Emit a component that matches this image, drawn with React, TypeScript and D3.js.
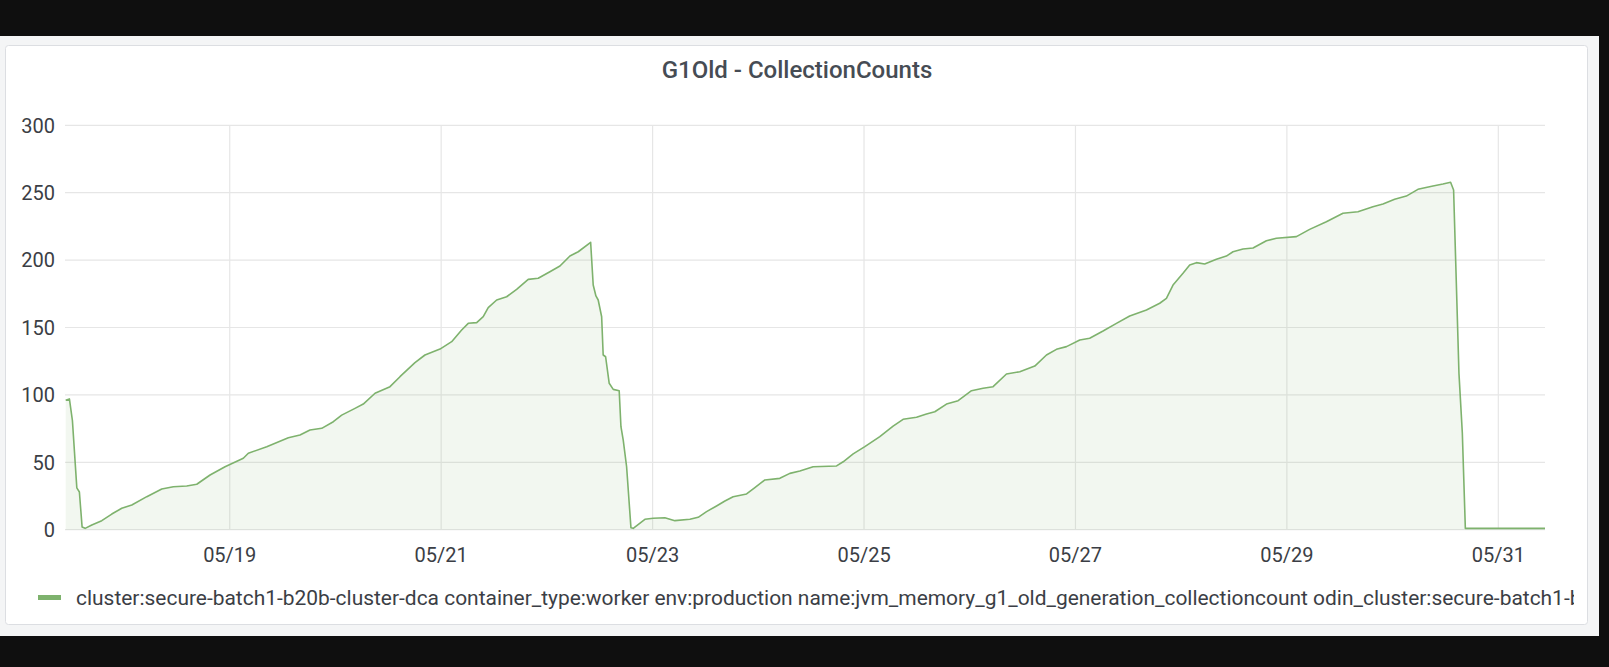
import React from "react";
import * as d3 from "d3";

const TITLE = "G1Old - CollectionCounts";
const LEGEND_LABEL =
  "cluster:secure-batch1-b20b-cluster-dca container_type:worker env:production name:jvm_memory_g1_old_generation_collectioncount odin_cluster:secure-batch1-b20b-cluster-dca";

const TIME_DOMAIN = ["2021-05-17 10:36", "2021-05-31 10:36"];
const Y_TICKS = [0, 50, 100, 150, 200, 250, 300];
const X_TICKS = ["2021-05-19 00:00", "2021-05-21 00:00", "2021-05-23 00:00", "2021-05-25 00:00", "2021-05-27 00:00", "2021-05-29 00:00", "2021-05-31 00:00"];

const times = [
  "2021-05-17 10:45", "2021-05-17 11:36", "2021-05-17 12:17", "2021-05-17 13:17", "2021-05-17 13:52",
  "2021-05-17 14:29", "2021-05-17 15:10", "2021-05-17 16:41", "2021-05-17 18:57", "2021-05-17 21:13",
  "2021-05-17 23:29", "2021-05-18 01:46", "2021-05-18 05:10", "2021-05-18 08:34", "2021-05-18 11:12",
  "2021-05-18 14:14", "2021-05-18 16:31", "2021-05-18 19:32", "2021-05-18 22:56", "2021-05-19 03:05",
  "2021-05-19 04:13", "2021-05-19 08:24", "2021-05-19 13:18", "2021-05-19 15:57", "2021-05-19 18:13",
  "2021-05-19 20:53", "2021-05-19 23:31", "2021-05-20 01:25", "2021-05-20 04:26", "2021-05-20 06:19",
  "2021-05-20 08:59", "2021-05-20 12:23", "2021-05-20 14:39", "2021-05-20 18:03", "2021-05-20 20:19",
  "2021-05-20 23:44", "2021-05-21 02:23", "2021-05-21 04:39", "2021-05-21 06:09", "2021-05-21 08:04",
  "2021-05-21 09:33", "2021-05-21 10:41", "2021-05-21 12:36", "2021-05-21 14:52", "2021-05-21 17:08",
  "2021-05-21 19:46", "2021-05-21 22:02", "2021-05-22 00:41", "2021-05-22 02:58", "2021-05-22 05:14",
  "2021-05-22 07:07", "2021-05-22 09:56", "2021-05-22 10:31", "2021-05-22 11:08", "2021-05-22 11:39",
  "2021-05-22 12:26", "2021-05-22 12:47", "2021-05-22 13:20", "2021-05-22 14:09", "2021-05-22 15:04",
  "2021-05-22 16:25", "2021-05-22 16:49", "2021-05-22 17:20", "2021-05-22 18:06", "2021-05-22 19:05",
  "2021-05-22 19:36", "2021-05-22 22:15", "2021-05-23 00:08", "2021-05-23 02:47", "2021-05-23 05:04",
  "2021-05-23 08:28", "2021-05-23 10:21", "2021-05-23 12:15", "2021-05-23 14:31", "2021-05-23 16:25",
  "2021-05-23 18:17", "2021-05-23 21:20", "2021-05-23 23:13", "2021-05-24 01:29", "2021-05-24 04:53",
  "2021-05-24 07:10", "2021-05-24 09:26", "2021-05-24 12:27", "2021-05-24 17:46", "2021-05-24 19:16",
  "2021-05-24 21:32", "2021-05-25 00:11", "2021-05-25 03:35", "2021-05-25 06:36", "2021-05-25 08:52",
  "2021-05-25 11:55", "2021-05-25 14:11", "2021-05-25 16:04", "2021-05-25 18:43", "2021-05-25 21:22",
  "2021-05-26 00:24", "2021-05-26 03:02", "2021-05-26 05:18", "2021-05-26 08:20", "2021-05-26 11:22",
  "2021-05-26 14:46", "2021-05-26 17:25", "2021-05-26 19:41", "2021-05-26 21:58", "2021-05-27 00:59",
  "2021-05-27 03:14", "2021-05-27 06:16", "2021-05-27 09:18", "2021-05-27 12:19", "2021-05-27 16:07",
  "2021-05-27 19:08", "2021-05-27 20:39", "2021-05-27 22:09", "2021-05-28 00:25", "2021-05-28 01:56",
  "2021-05-28 03:28", "2021-05-28 05:20", "2021-05-28 08:00", "2021-05-28 10:16", "2021-05-28 11:46",
  "2021-05-28 14:02", "2021-05-28 16:19", "2021-05-28 19:21", "2021-05-28 21:37", "2021-05-29 02:10",
  "2021-05-29 05:10", "2021-05-29 08:58", "2021-05-29 12:44", "2021-05-29 16:08", "2021-05-29 19:32",
  "2021-05-29 21:49", "2021-05-30 00:28", "2021-05-30 03:07", "2021-05-30 05:45", "2021-05-30 09:10",
  "2021-05-30 11:26", "2021-05-30 13:10", "2021-05-30 13:51", "2021-05-30 14:19", "2021-05-30 15:04",
  "2021-05-30 15:50", "2021-05-30 16:31", "2021-05-31 10:36",
];

const counts = [
  96, 97, 81, 31, 28,
  2, 1, 3.5, 6.7, 11.6,
  15.9, 18.3, 24.5, 30.2, 31.9,
  32.4, 33.7, 40.6, 46.7, 53,
  56.7, 61.6, 68.2, 70.2, 74,
  75.2, 80.1, 85, 90, 93.2,
  101.2, 106.1, 113.5, 123.9, 129.6,
  134, 139.5, 148.1, 153.1, 153.6,
  158, 164.7, 170.4, 172.8, 178.3,
  185.7, 186.5, 191.4, 195.6, 203,
  206.2, 213.2, 181.5, 173.4, 170.4,
  158, 129.6, 128.3, 108.6, 104.1,
  103.1, 76.4, 66.5, 46.7, 1.5,
  1, 7.7, 8.5, 8.9, 6.7,
  7.7, 9.2, 13.4, 17.6, 21.3,
  24.5, 26.5, 31.2, 36.9, 38.1,
  41.8, 43.5, 46.7, 47.3, 50.4,
  56.2, 61.6, 69, 76.9, 81.9,
  83.4, 85.8, 87.5, 93.2, 95.7,
  103.1, 104.9, 106.1, 115.5, 117.2,
  121.4, 129.6, 133.8, 135.8, 140.7,
  142, 147.4, 153.1, 158.5, 163,
  168, 171.6, 181.5, 190.2, 196.4,
  198.1, 197.1, 200.6, 203, 206.2,
  208.2, 209, 214.4, 216.2, 217.4,
  222.8, 228.5, 234.7, 235.9, 239.6,
  241.6, 245.1, 247.5, 252.5, 255,
  256.4, 257.7, 252, 200, 116,
  71.5, 1, 1,
];

const parse = d3.timeParse("%Y-%m-%d %H:%M");
const fmt = d3.timeFormat("%m/%d");

const W = 1609;
const H = 667;
const PLOT = { left: 65, right: 1545, top: 125.3, bottom: 529.7 };
const FONT = "Roboto, 'Noto Sans', sans-serif";
const GREEN = "#7eb26d";

export default function App() {
  const x = d3
    .scaleTime()
    .domain(TIME_DOMAIN.map((s) => parse(s) as Date))
    .range([PLOT.left, PLOT.right]);
  const y = d3.scaleLinear().domain([0, 300]).range([PLOT.bottom, PLOT.top]);

  const data = times.map((t, i) => ({ t: parse(t) as Date, v: counts[i] }));
  const line = d3
    .line<{ t: Date; v: number }>()
    .x((d) => x(d.t))
    .y((d) => y(d.v));
  const area = d3
    .area<{ t: Date; v: number }>()
    .x((d) => x(d.t))
    .y0(y(0))
    .y1((d) => y(d.v));

  const xTicks = X_TICKS.map((s) => parse(s) as Date);

  return (
    <div style={{ position: "fixed", left: 0, top: 0, width: W, height: H }}>
      <svg width={W} height={H} style={{ display: "block" }} fontFamily={FONT}>
        <defs>
          <clipPath id="plotClip">
            <rect x={PLOT.left} y={PLOT.top - 5} width={PLOT.right - PLOT.left} height={PLOT.bottom - PLOT.top + 10} />
          </clipPath>
          <clipPath id="legendClip">
            <rect x={30} y={575} width={1544} height={45} />
          </clipPath>
        </defs>
        <rect x={0} y={0} width={W} height={H} fill="#0f0f0f" />
        <rect x={0} y={36} width={1599} height={600} fill="#f4f5f6" />
        <rect x={5.5} y={45.5} width={1582} height={579} rx={3} fill="#ffffff" stroke="#dcdee2" />

        <text x={797} y={78} textAnchor="middle" fontSize={24} fontWeight={500} fill="#464c54">
          {TITLE}
        </text>

        {Y_TICKS.map((t) => (
          <g key={"y" + t}>
            <line x1={PLOT.left} x2={PLOT.right} y1={y(t)} y2={y(t)} stroke="#e6e6e6" strokeWidth={1.2} />
            <text x={55} y={y(t)} dy="0.36em" textAnchor="end" fontSize={20} fill="#3b3e45">
              {t}
            </text>
          </g>
        ))}
        {xTicks.map((t) => (
          <g key={"x" + t.getTime()}>
            <line x1={x(t)} x2={x(t)} y1={PLOT.top} y2={PLOT.bottom} stroke="#e6e6e6" strokeWidth={1.2} />
            <text x={x(t)} y={555} dy="0.36em" textAnchor="middle" fontSize={20} fill="#3b3e45">
              {fmt(t)}
            </text>
          </g>
        ))}

        <g clipPath="url(#plotClip)">
          <path d={area(data) || ""} fill={GREEN} fillOpacity={0.1} />
          <path d={line(data) || ""} fill="none" stroke={GREEN} strokeWidth={1.6} strokeLinejoin="round" />
        </g>

        <rect x={38} y={595} width={23} height={5} fill={GREEN} />
        <g clipPath="url(#legendClip)">
          <text x={76} y={597} dy="0.36em" fontSize={20.95} fill="#3b3e45">
            {LEGEND_LABEL}
          </text>
        </g>
      </svg>
    </div>
  );
}
